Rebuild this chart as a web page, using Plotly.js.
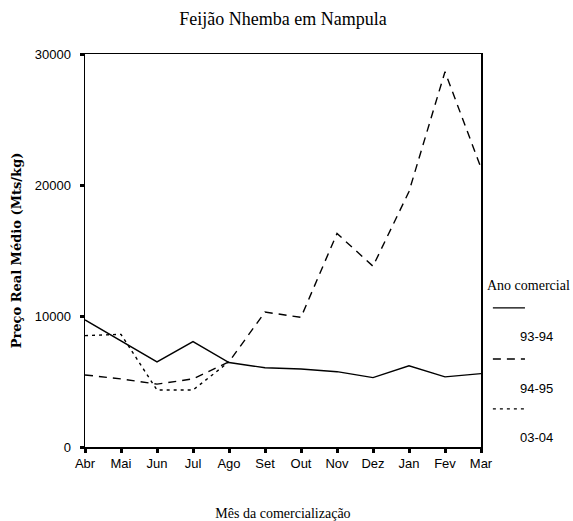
<!DOCTYPE html>
<html>
<head>
<meta charset="utf-8">
<script src="https://cdn.plot.ly/plotly-3.0.1.min.js"></script>
<style>html,body{margin:0;padding:0;background:#fff;}#chart{width:573px;height:521px;}</style>
</head>
<body>
<div id="chart"></div>
<script>
const months = ["Abr","Mai","Jun","Jul","Ago","Set","Out","Nov","Dez","Jan","Fev","Mar"];
const seriesNames = ["93-94","94-95","03-04"];
const s9394 = [9700, 8100, 6500, 8050, 6450, 6050, 5950, 5750, 5300, 6200, 5350, 5600];
const s9495 = [5500, 5200, 4800, 5200, 6500, 10300, 9900, 16300, 13800, 19500, 28650, 21300];
const s0304 = [8500, 8600, 4350, 4350, 6500, null, null, null, null, null, null, null];
const yTicks = [0, 10000, 20000, 30000];

const dashes = ["solid", "8px,6px", "3px,4px"];
const data = [s9394, s9495, s0304].map((ys, i) => ({
  x: months, y: ys, type: "scatter", mode: "lines", name: seriesNames[i],
  line: {color: "#000", width: 1.4, dash: dashes[i]}, connectgaps: false, hoverinfo: "skip"
}));

const serif = "Liberation Serif, Times New Roman, serif";
const wideSerif = "DejaVu Serif, serif";
const sans = "Liberation Sans, Arial, sans-serif";

// legend built from shapes + annotations (paper coordinates)
const legLineY = [0.354, 0.224, 0.097];
const legTextY = [0.280, 0.150, 0.025];
const shapes = seriesNames.map((n, i) => ({
  type: "line", xref: "paper", yref: "paper", x0: 1.030, x1: 1.111, y0: legLineY[i], y1: legLineY[i],
  line: {color: "#000", width: 1.4, dash: dashes[i]}
}));
const annotations = [{
  text: "Ano comercial", xref: "paper", yref: "paper", x: 1.010, y: 0.412, xanchor: "left", yanchor: "middle",
  showarrow: false, font: {family: serif, size: 14, color: "#000"}
}].concat(seriesNames.map((n, i) => ({
  text: n, xref: "paper", yref: "paper", x: 1.141, y: legTextY[i], xanchor: "center", yanchor: "middle",
  showarrow: false, font: {family: sans, size: 13, color: "#000"}
})));

const layout = {
  width: 573, height: 521,
  margin: {l: 85, r: 92, t: 54, b: 74},
  paper_bgcolor: "#fff", plot_bgcolor: "#fff",
  showlegend: false,
  title: {text: "Feijão Nhemba em Nampula", x: 0.5, xref: "paper", y: 0.965, yanchor: "middle",
          font: {family: serif, size: 18, color: "#000"}},
  xaxis: {
    type: "category", range: [0, 11], showgrid: false, zeroline: false,
    showline: true, linecolor: "#000", linewidth: 1.5, mirror: true,
    ticks: "outside", ticklen: 4, tickwidth: 3, tickcolor: "#000",
    tickfont: {family: sans, size: 13, color: "#000"},
    title: {text: "Mês da comercialização", font: {family: serif, size: 14, color: "#000"}, standoff: 42}
  },
  yaxis: {
    range: [0, 30000], tickvals: yTicks, ticktext: yTicks.map(String), showgrid: false, zeroline: false,
    showline: true, linecolor: "#000", linewidth: 1.5, mirror: true,
    ticks: "outside", ticklen: 4, tickwidth: 3, tickcolor: "#000", ticklabelstandoff: 6,
    tickfont: {family: sans, size: 13, color: "#000"},
    title: {text: "<b>Preço Real Médio (Mts/kg)</b>", font: {family: wideSerif, size: 13, color: "#000"}, standoff: 10}
  },
  shapes: shapes,
  annotations: annotations
};

Plotly.newPlot("chart", data, layout, {staticPlot: true, displayModeBar: false});
</script>
</body>
</html>
